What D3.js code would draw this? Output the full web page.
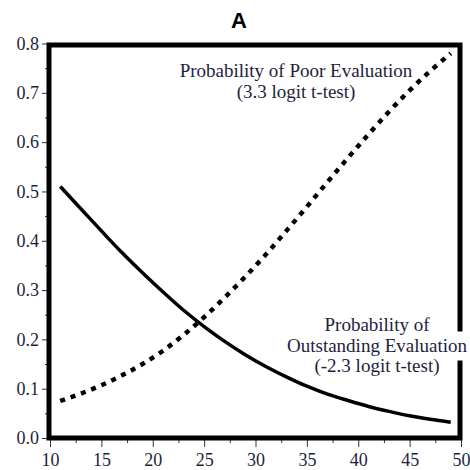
<!DOCTYPE html>
<html>
<head>
<meta charset="utf-8">
<script src="https://cdn.jsdelivr.net/npm/d3@7"></script>
<style>
  html, body { margin: 0; padding: 0; background: #fff; }
  svg { display: block; }
</style>
</head>
<body>
<svg id="chart" width="470" height="470"></svg>
<script>
// ---- Data ----
const titleText = "A";
const xValues = [11, 13, 15, 17, 19, 21, 23, 25, 27, 29, 31, 33, 35, 37, 39, 41, 43, 45, 47, 49];
const outstandingProb = [0.510, 0.465, 0.420, 0.376, 0.335, 0.296, 0.259, 0.226, 0.196, 0.169,
                         0.145, 0.124, 0.105, 0.089, 0.076, 0.064, 0.054, 0.045, 0.038, 0.032];
const poorProb = [0.075, 0.090, 0.107, 0.127, 0.150, 0.177, 0.209, 0.245, 0.285, 0.327,
                  0.372, 0.420, 0.469, 0.519, 0.568, 0.616, 0.662, 0.705, 0.744, 0.780];
const xTicks = [10, 15, 20, 25, 30, 35, 40, 45, 50];
const xMinorTicks = [12.5, 17.5, 22.5, 27.5, 32.5, 37.5, 42.5, 47.5];
const yTicks = [0.0, 0.1, 0.2, 0.3, 0.4, 0.5, 0.6, 0.7, 0.8];
const yMinorTicks = [0.05, 0.15, 0.25, 0.35, 0.45, 0.55, 0.65, 0.75];
const poorLabel = ["Probability of Poor Evaluation", "(3.3 logit t-test)"];
const outstandingLabel = ["Probability of", "Outstanding Evaluation", "(-2.3 logit t-test)"];

// ---- Layout ----
const svg = d3.select("#chart");
const x = d3.scaleLinear().domain([10, 50]).range([50, 461]);
const y = d3.scaleLinear().domain([0, 0.8]).range([438, 43.5]);
const textColor = "#1e1e3c";
const serif = "'Liberation Serif', 'Times New Roman', serif";

// Title
svg.append("text")
  .attr("x", 239).attr("y", 28)
  .attr("text-anchor", "middle")
  .attr("font-family", "'Liberation Sans', Arial, sans-serif")
  .attr("font-weight", "bold")
  .attr("font-size", 22)
  .attr("fill", "#000")
  .text(titleText);

// Axes (ticks only; frame drawn separately)
const yAxis = svg.append("g")
  .attr("transform", `translate(${x(10) - 2},0)`)
  .call(d3.axisLeft(y).tickValues(yTicks).tickFormat(d3.format(".1f")).tickSize(6).tickPadding(3));
yAxis.select(".domain").remove();
yAxis.selectAll("line").attr("stroke", "#333");
yAxis.selectAll("text").attr("font-family", serif).attr("font-size", 18).attr("fill", textColor);

const yMinor = svg.append("g")
  .attr("transform", `translate(${x(10) - 2},0)`)
  .call(d3.axisLeft(y).tickValues(yMinorTicks).tickFormat("").tickSize(3));
yMinor.select(".domain").remove();
yMinor.selectAll("line").attr("stroke", "#333");

const xAxis = svg.append("g")
  .attr("transform", `translate(0,${y(0) + 2})`)
  .call(d3.axisBottom(x).tickValues(xTicks).tickFormat(d3.format("d")).tickSize(7).tickPadding(6));
xAxis.select(".domain").remove();
xAxis.selectAll("line").attr("stroke", "#333");
xAxis.selectAll("text").attr("font-family", serif).attr("font-size", 18).attr("fill", textColor);

const xMinor = svg.append("g")
  .attr("transform", `translate(0,${y(0) + 2})`)
  .call(d3.axisBottom(x).tickValues(xMinorTicks).tickFormat("").tickSize(3));
xMinor.select(".domain").remove();
xMinor.selectAll("line").attr("stroke", "#333");

// Frame
svg.append("rect")
  .attr("x", x(10) - 1).attr("y", y(0.8) + 1.5)
  .attr("width", x(50) - x(10))
  .attr("height", y(0) - y(0.8) - 1.5)
  .attr("fill", "none")
  .attr("stroke", "#000")
  .attr("stroke-width", 5);

// Curves
const line = d3.line().curve(d3.curveMonotoneX);
const outPts = xValues.map((v, i) => [x(v), y(outstandingProb[i])]);
const poorPts = xValues.map((v, i) => [x(v), y(poorProb[i])]);

svg.append("path")
  .attr("d", line(outPts))
  .attr("fill", "none")
  .attr("stroke", "#000")
  .attr("stroke-width", 3.5);

svg.append("path")
  .attr("d", line(poorPts))
  .attr("fill", "none")
  .attr("stroke", "#000")
  .attr("stroke-width", 4.5)
  .attr("stroke-dasharray", "5,6");

// Annotations
function addLabel(lines, cx, baseline0, lh, withBg) {
  const g = svg.append("g");
  lines.forEach((t, i) => {
    const txt = g.append("text")
      .attr("x", cx).attr("y", baseline0 + i * lh)
      .attr("text-anchor", "middle")
      .attr("font-family", serif)
      .attr("font-size", 19)
      .attr("fill", textColor)
      .text(t);
    if (withBg && withBg.includes(i)) {
      const bb = txt.node().getBBox();
      g.insert("rect", "text")
        .attr("x", bb.x - 3).attr("y", bb.y - 3)
        .attr("width", bb.width + 6).attr("height", bb.height + 8)
        .attr("fill", "#fff");
    }
  });
}
addLabel(poorLabel, 296, 77, 20.5, null);
addLabel(outstandingLabel, 377, 331, 20.5, [1]);
</script>
</body>
</html>
